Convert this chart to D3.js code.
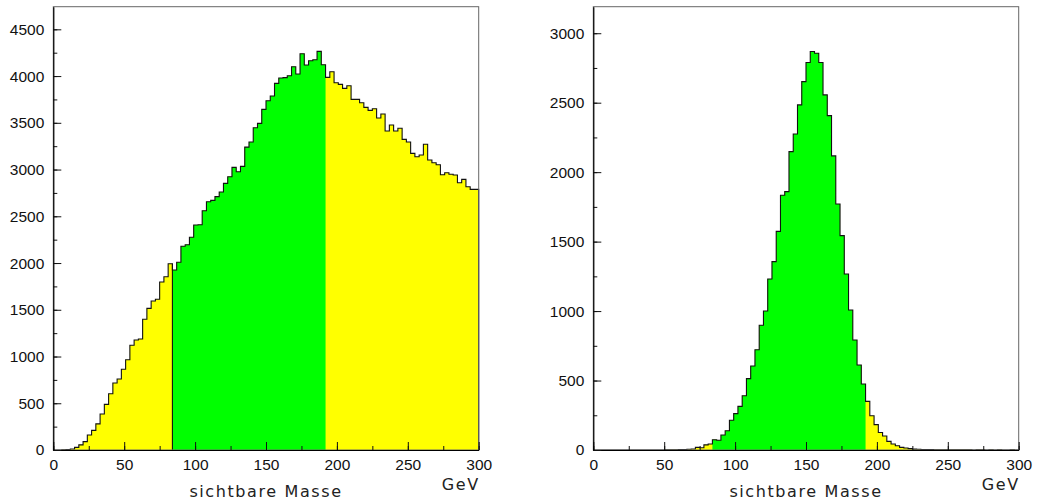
<!DOCTYPE html>
<html>
<head>
<meta charset="utf-8">
<script src="https://cdn.jsdelivr.net/npm/d3@7"></script>
<style>
  html, body { margin: 0; padding: 0; background: #fff; }
  svg { display: block; }
  .tick text { font-family: "Liberation Sans", Arial, sans-serif; font-size: 15.5px; fill: #111; }
  .title { font-family: "DejaVu Sans", sans-serif; font-size: 16px; fill: #222; letter-spacing: 1.6px; }
</style>
</head>
<body>
<svg id="chart" width="1038" height="504"></svg>
<script>
// Histogram binning: 100 bins of 3 GeV from 0 to 300 GeV
const massRange = [0, 300];
const binWidth = 3;

// Window of the selection cut (GeV)
const cutWindow = [84, 192];

// Left: visible mass, all events
const countsAll = [
  0, 0, 2, 6, 10, 28, 55, 90, 160, 210,
  280, 385, 488, 602, 716, 760, 863, 966, 1120, 1177,
  1188, 1398, 1515, 1594, 1612, 1797, 1854, 1993, 1925, 2008,
  2180, 2196, 2275, 2407, 2410, 2560, 2656, 2670, 2710, 2760,
  2852, 2923, 3023, 2977, 3034, 3240, 3294, 3447, 3494, 3644,
  3736, 3786, 3922, 3979, 3983, 4004, 4100, 4022, 4239, 4118,
  4164, 4175, 4264, 4121, 3986, 4046, 3929, 3911, 3868, 3897,
  3751, 3751, 3715, 3665, 3633, 3651, 3551, 3594, 3412, 3476,
  3412, 3441, 3323, 3294, 3173, 3137, 3155, 3270, 3102, 3073,
  3052, 2945, 2966, 2949, 2941, 2859, 2895, 2816, 2788, 2788
];

// Right: visible mass, signal events
const countsSignal = [
  0, 0, 0, 0, 0, 0, 0, 0, 0, 0,
  0, 0, 0, 0, 0, 0, 0, 1, 1, 2,
  3, 4, 5, 7, 19, 16, 37, 43, 74, 70,
  108, 139, 214, 262, 314, 391, 514, 605, 722, 898,
  1001, 1231, 1356, 1574, 1834, 1860, 2148, 2275, 2484, 2652,
  2789, 2868, 2856, 2789, 2556, 2407, 2117, 1771, 1543, 1267,
  1008, 792, 612, 475, 350, 247, 183, 126, 101, 62,
  43, 31, 19, 14, 10, 6, 5, 4, 3, 3,
  2, 2, 2, 1, 2, 1, 1, 1, 1, 0,
  1, 1, 0, 1, 0, 1, 0, 0, 1, 0
];

// Axis ticks
const xTicks = [0, 50, 100, 150, 200, 250, 300];
const yTicksAll = [0, 500, 1000, 1500, 2000, 2500, 3000, 3500, 4000, 4500];
const yTicksSignal = [0, 500, 1000, 1500, 2000, 2500, 3000];

const xLabel = "sichtbare Masse";
const unitLabel = "GeV";

const YELLOW = "#ffff00";
const GREEN = "#00ff00";

const svg = d3.select("#chart");

function drawPanel(opts) {
  const { left, right, top, bottom, counts, yMax, yTicks, separatorAtCutLow } = opts;
  const g = svg.append("g");

  const x = d3.scaleLinear().domain(massRange).range([left, right]);
  const y = d3.scaleLinear().domain([0, yMax]).range([bottom, top]);

  const bins = counts.map((c, i) => ({ x0: massRange[0] + i * binWidth, x1: massRange[0] + (i + 1) * binWidth, c }));

  // Filled step area for a subset of bins
  function stepArea(sub) {
    const pts = [];
    sub.forEach(b => { pts.push([b.x0, b.c]); pts.push([b.x1, b.c]); });
    return d3.area().x(d => x(d[0])).y0(y(0)).y1(d => y(d[1]))(pts);
  }

  // Full histogram in yellow, cut window overlaid in green
  g.append("path").attr("d", stepArea(bins)).attr("fill", YELLOW);
  const inCut = bins.filter(b => b.x0 >= cutWindow[0] - 1e-9 && b.x1 <= cutWindow[1] + 1e-9);
  g.append("path").attr("d", stepArea(inCut)).attr("fill", GREEN);

  // Outline of the histogram
  const outline = [[bins[0].x0, 0]];
  bins.forEach(b => { outline.push([b.x0, b.c]); outline.push([b.x1, b.c]); });
  outline.push([bins[bins.length - 1].x1, 0]);
  g.append("path")
    .attr("d", d3.line().x(d => x(d[0])).y(d => y(d[1]))(outline))
    .attr("fill", "none").attr("stroke", "#111").attr("stroke-width", 1.1);

  if (separatorAtCutLow) {
    const prev = bins.find(b => Math.abs(b.x1 - cutWindow[0]) < 1e-9);
    g.append("line")
      .attr("x1", x(cutWindow[0])).attr("x2", x(cutWindow[0]))
      .attr("y1", y(0)).attr("y2", y(prev.c))
      .attr("stroke", "#111").attr("stroke-width", 1.1);
  }

  // Frame
  g.append("rect")
    .attr("x", left).attr("y", top)
    .attr("width", right - left).attr("height", bottom - top)
    .attr("fill", "none").attr("stroke", "#666").attr("stroke-width", 1);

  // Minor ticks
  g.append("g").attr("transform", `translate(0,${bottom})`)
    .call(d3.axisBottom(x).tickValues(d3.range(0, 301, 25)).tickSize(-4).tickSizeOuter(0).tickFormat(""))
    .call(s => s.select(".domain").remove())
    .call(s => s.selectAll("line").attr("stroke", "#111"));
  g.append("g").attr("transform", `translate(${left},0)`)
    .call(d3.axisLeft(y).tickValues(d3.range(0, yMax, 250)).tickSize(-4).tickSizeOuter(0).tickFormat(""))
    .call(s => s.select(".domain").remove())
    .call(s => s.selectAll("line").attr("stroke", "#111"));

  // Major ticks with labels
  g.append("g").attr("transform", `translate(0,${bottom})`)
    .call(d3.axisBottom(x).tickValues(xTicks).tickSize(-8).tickSizeOuter(0).tickPadding(8.5).tickFormat(d3.format("d")))
    .call(s => s.select(".domain").attr("stroke", "#000").attr("stroke-width", 1.2))
    .call(s => s.selectAll("line").attr("stroke", "#111"))
    .call(s => s.selectAll("text").attr("font-family", null).attr("font-size", null));
  g.append("g").attr("transform", `translate(${left},0)`)
    .call(d3.axisLeft(y).tickValues(yTicks).tickSize(-8).tickSizeOuter(0).tickPadding(9).tickFormat(d3.format("d")))
    .call(s => s.select(".domain").attr("stroke", "#000").attr("stroke-width", 1.2))
    .call(s => s.selectAll("line").attr("stroke", "#111"))
    .call(s => s.selectAll("text").attr("font-family", null).attr("font-size", null));

  // Axis titles
  g.append("text").attr("class", "title")
    .attr("x", (left + right) / 2).attr("y", 497)
    .attr("text-anchor", "middle").text(xLabel);
  g.append("text").attr("class", "title")
    .attr("x", right + 1).attr("y", 490)
    .attr("text-anchor", "end").text(unitLabel);
}

drawPanel({ left: 53.3, right: 478.7, top: 6.7, bottom: 450,
  counts: countsAll, yMax: 4742, yTicks: yTicksAll, separatorAtCutLow: true });
drawPanel({ left: 593.3, right: 1018.7, top: 6.7, bottom: 450,
  counts: countsSignal, yMax: 3191, yTicks: yTicksSignal, separatorAtCutLow: false });
</script>
</body>
</html>
